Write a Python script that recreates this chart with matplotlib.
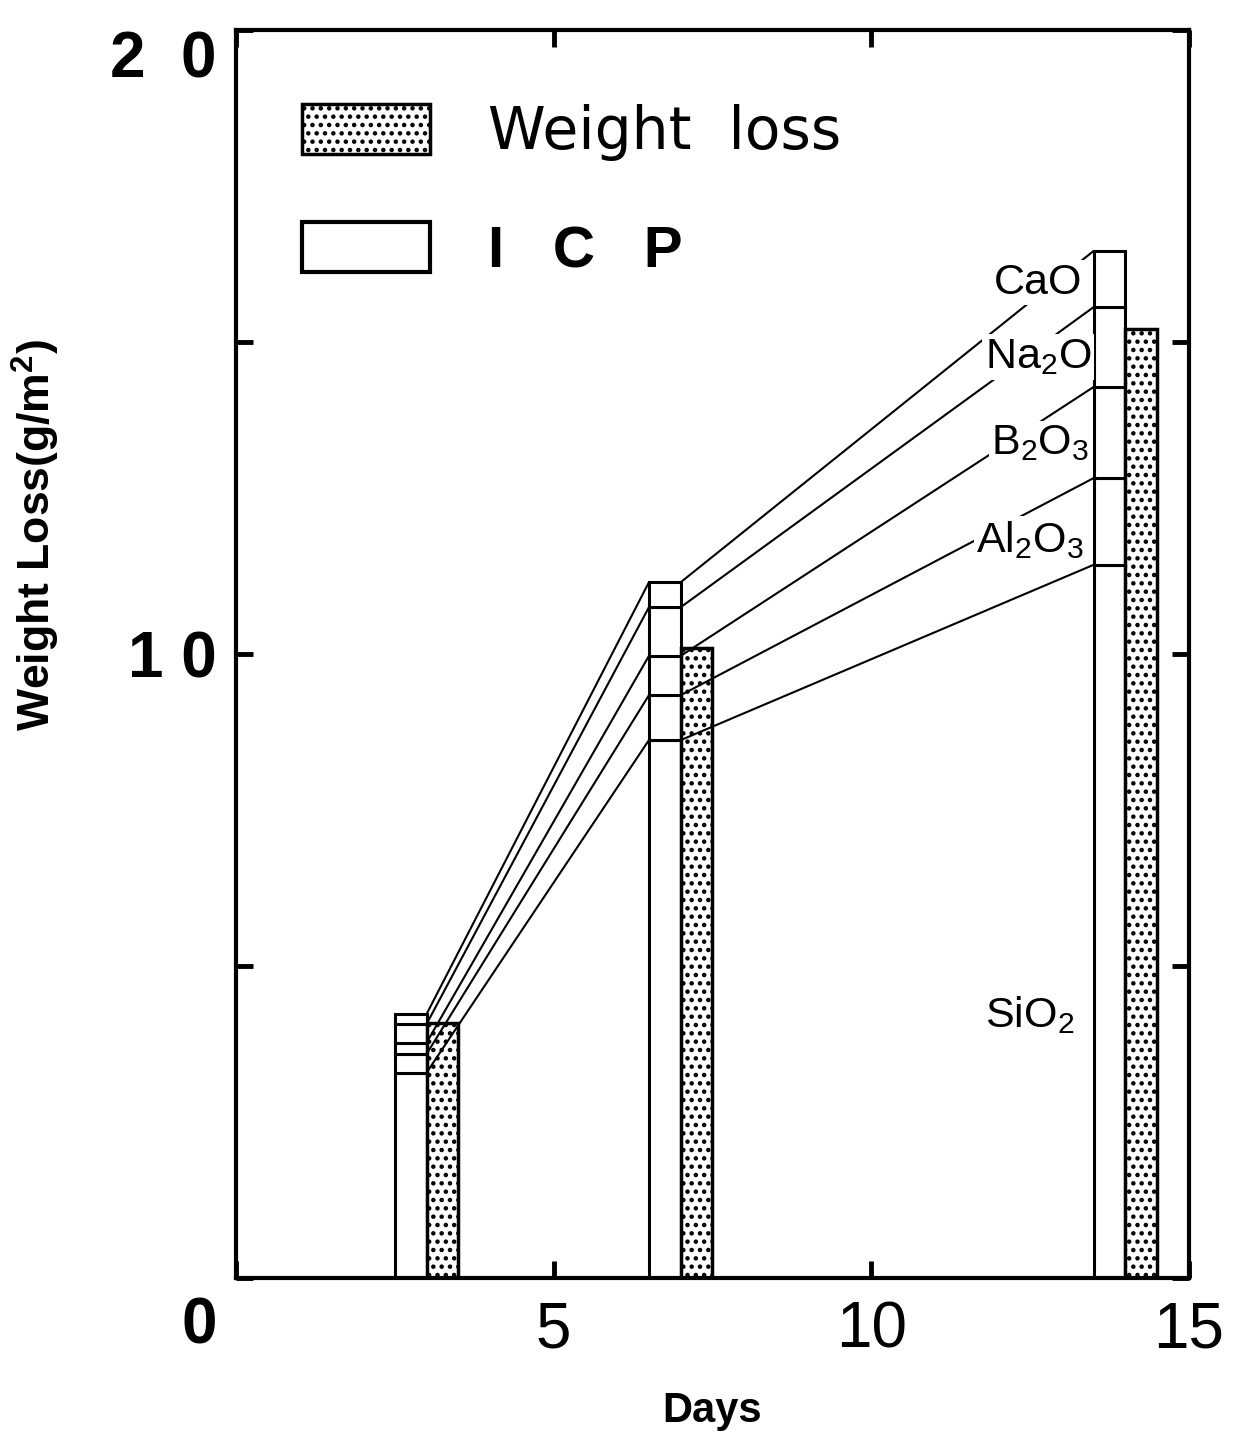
import matplotlib
matplotlib.use("Agg")
import matplotlib.pyplot as plt
import numpy as np

# ---- data ----
days = [3, 7, 14]
weight_loss = [4.08, 10.10, 15.21]
icp_components = ["SiO2", "Al2O3", "B2O3", "Na2O", "CaO"]
SiO2 = [3.29, 8.62, 11.43]
Al2O3 = [0.30, 0.72, 1.39]
B2O3 = [0.18, 0.63, 1.46]
Na2O = [0.30, 0.78, 1.28]
CaO = [0.16, 0.40, 0.90]
component_labels = ["SiO$_2$", "Al$_2$O$_3$", "B$_2$O$_3$", "Na$_2$O", "CaO"]
label_pos_x = [12.5, 12.5, 12.66, 12.63, 12.63]
label_pos_y = [4.21, 11.83, 13.38, 14.76, 15.95]
x_ticks = [0, 5, 10, 15]
x_ticklabels = ["", "5", "10", "15"]
y_ticks = [0, 5, 10, 15, 20]
y_ticklabels = ["", "", "1 0", "", "2  0"]

plt.rcParams['font.family'] = ['Liberation Sans', 'DejaVu Sans']
plt.rcParams['mathtext.default'] = 'regular'
plt.rcParams['hatch.linewidth'] = 2.0

fig = plt.figure(figsize=(12.34, 14.36), dpi=100)
ax = fig.add_axes([0.1912, 0.1100, 0.7723, 0.8691])

bw = 0.5
comps = [SiO2, Al2O3, B2O3, Na2O, CaO]
bottom = np.zeros(len(days))
levels = []
for vals in comps:
    ax.bar(np.array(days) - bw / 2, vals, bw, bottom=bottom, facecolor='white',
           edgecolor='black', linewidth=2.2, zorder=2)
    bottom = bottom + np.array(vals)
    levels.append(bottom.copy())

wl = ax.bar(np.array(days) + bw / 2, weight_loss, bw, facecolor='white',
            edgecolor='black', linewidth=2.5, hatch='..', zorder=2)
icp_handle = plt.Rectangle((0, 0), 1, 1, facecolor='white', edgecolor='black', linewidth=3)

# connecting lines between stacked levels
for lv in levels:
    for i in range(len(days) - 1):
        ax.plot([days[i], days[i + 1] - bw], [lv[i], lv[i + 1]], color='black',
                lw=1.5, zorder=3, solid_capstyle='butt')

for lab, lx, ly in zip(component_labels, label_pos_x, label_pos_y):
    ax.text(lx, ly, lab, fontsize=31, ha='center', va='center', zorder=5,
            bbox=dict(facecolor='white', edgecolor='none', pad=2))

ax.set_xlim(0, 15)
ax.set_ylim(0, 20)
ax.set_xticks(x_ticks)
ax.set_xticklabels(x_ticklabels)
ax.set_yticks(y_ticks)
ax.set_yticklabels(y_ticklabels)
ax.tick_params(direction='in', length=12, width=3.5, top=True, right=True)
ax.tick_params(axis='x', pad=16, labelsize=46)
ax.tick_params(axis='y', pad=14, labelsize=46)
for t in ax.get_yticklabels():
    t.set_fontweight('bold')
for t in ax.get_xticklabels():
    t.set_fontweight('normal')
ax.get_yticklabels()[4].set_verticalalignment('top')
ax.get_yticklabels()[4].set_y(20.45)
ax.text(-0.57, -0.78, "0", fontsize=46, fontweight='bold', ha='center', va='center')
for s in ax.spines.values():
    s.set_linewidth(3)

ax.set_xlabel("Days", fontsize=30, fontweight='bold', labelpad=22)
ax.set_ylabel("Weight Loss(g/m$^2$)", fontsize=32, fontweight='bold')
ax.yaxis.set_label_coords(-0.182, 0.595)

leg = ax.legend([wl, icp_handle], ["Weight  loss", "I  C  P"], loc='upper left',
                bbox_to_anchor=(0.069, 0.941), frameon=False, fontsize=42,
                handlelength=2.2, handleheight=0.95, handletextpad=1.0,
                labelspacing=1.05, borderpad=0, borderaxespad=0,
                prop={'family': ['DejaVu Sans'], 'size': 42})
leg.get_texts()[1].set_fontweight('bold')
leg.get_texts()[1].set_family(['Liberation Sans'])
leg.get_texts()[1].set_text("I   C   P")

fig.savefig("out.png", dpi=100)
